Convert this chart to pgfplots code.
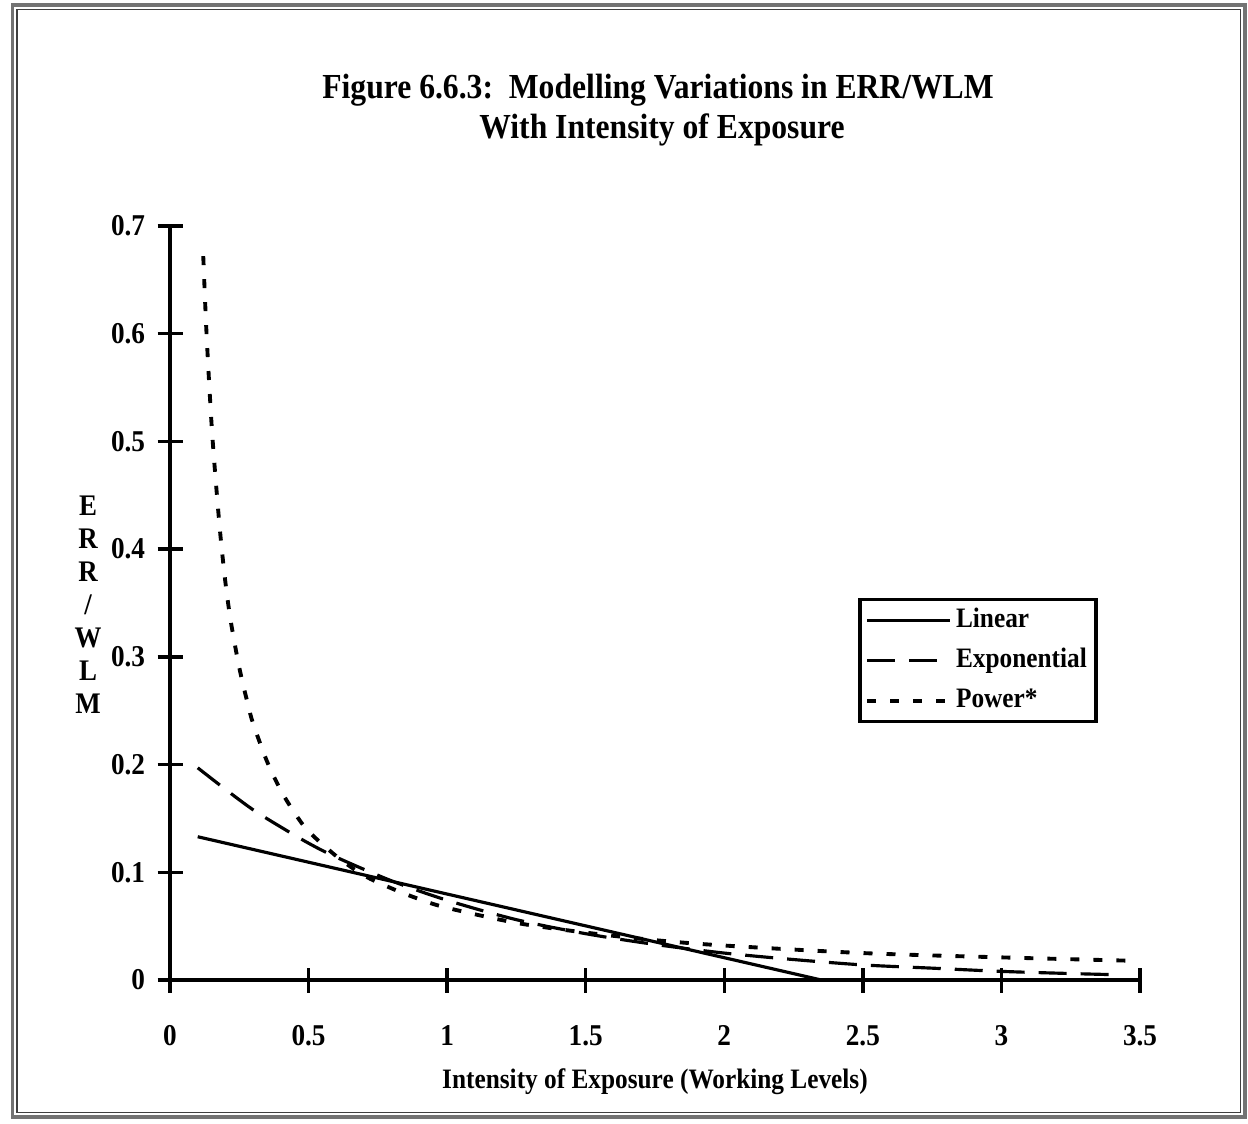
\documentclass[border=0pt]{standalone}
\usepackage{fontspec}
\setmainfont{Liberation Serif}[FakeStretch=0.9]
\usepackage{pgfplots}
\usepackage{pgfplotstable}
\pgfplotsset{compat=1.18}

\pgfplotstableread{
x y
0.10 0.133
2.35 0.000
}\linear

\pgfplotstableread{
x y
0.10 0.197
0.20 0.177
0.30 0.158
0.40 0.142
0.50 0.127
0.60 0.114
0.80 0.092
1.00 0.074
1.25 0.056
1.50 0.043
1.75 0.033
2.00 0.025
2.25 0.019
2.50 0.014
2.75 0.011
3.00 0.008
3.25 0.006
3.40 0.005
}\expo

\pgfplotstableread{
x y
0.12 0.672
0.13 0.610
0.14 0.560
0.15 0.516
0.16 0.480
0.18 0.418
0.20 0.369
0.22 0.332
0.25 0.290
0.28 0.257
0.30 0.238
0.35 0.203
0.40 0.176
0.45 0.155
0.50 0.138
0.60 0.115
0.70 0.097
0.80 0.085
0.90 0.075
1.00 0.067
1.25 0.053
1.50 0.044
1.75 0.037
2.00 0.032
2.50 0.025
3.00 0.021
3.45 0.018
}\power

\begin{document}
\begin{tikzpicture}
\path[use as bounding box] (0,0) rectangle (124.8mm,112.3mm);
\draw[line width=1pt, black!55] (1.25mm,0.6mm) rectangle (124.5mm,111.8mm);
\draw[line width=0.5pt, black!75] (1.7mm,1.05mm) rectangle (124.05mm,111.35mm);

\node[anchor=base, font=\bfseries\fontsize{10}{12}\selectfont] at (65.8mm,102.4mm) {Figure 6.6.3:\ \ Modelling Variations in ERR/WLM};
\node[anchor=base, font=\bfseries\fontsize{10}{12}\selectfont] at (66.2mm,98.4mm) {With Intensity of Exposure};
\node[anchor=base, font=\bfseries\fontsize{8}{10}\selectfont] at (65.5mm,3.5mm) {Intensity of Exposure (Working Levels)};
\node[align=center, font=\bfseries\fontsize{8.5}{9.4}\selectfont] at (8.8mm,51.8mm) {E\\R\\R\\/\\W\\L\\M};

\begin{axis}[
  at={(17mm,14.3mm)}, anchor=south west,
  scale only axis, width=97mm, height=75.4mm,
  xmin=0, xmax=3.5, ymin=0, ymax=0.7,
  axis lines=left,
  axis line style={-, line width=1pt, black},
  xtick={0,0.5,1,1.5,2,2.5,3,3.5},
  xticklabels={0,0.5,1,1.5,2,2.5,3,3.5},
  ytick={0,0.1,0.2,0.3,0.4,0.5,0.6,0.7},
  yticklabels={0,0.1,0.2,0.3,0.4,0.5,0.6,0.7},
  tick align=center,
  major tick length=2.5mm,
  tick style={black, line width=1pt},
  ticklabel style={font=\bfseries\fontsize{8.6}{10}\selectfont},
  xticklabel style={anchor=center, yshift=-4.3mm},
  yticklabel style={anchor=east},
  clip=false,
  legend cell align=left,
  legend style={at={(axis cs:2.484,0.3547)}, anchor=north west,
    draw=black, line width=1pt, inner xsep=0.5mm, inner ysep=0.5mm,
    font=\bfseries\fontsize{8}{10}\selectfont,
    nodes={inner sep=0.4mm, text height=1.9mm, text depth=0.5mm},
    row sep=0.8mm},
  legend image code/.code={\draw[#1] (0mm,0mm) -- (8.3mm,0mm);},
]
\addplot[black, line width=0.9pt] table {\linear};
\addlegendentry{Linear}
\addplot[black, line width=0.9pt, dash pattern=on 2.8mm off 1.4mm, smooth] table {\expo};
\addlegendentry{Exponential}
\addplot[black, line width=1.1pt, dash pattern=on 0.9mm off 1.4mm, smooth] table {\power};
\addlegendentry{Power*}
\end{axis}
\end{tikzpicture}
\end{document}
